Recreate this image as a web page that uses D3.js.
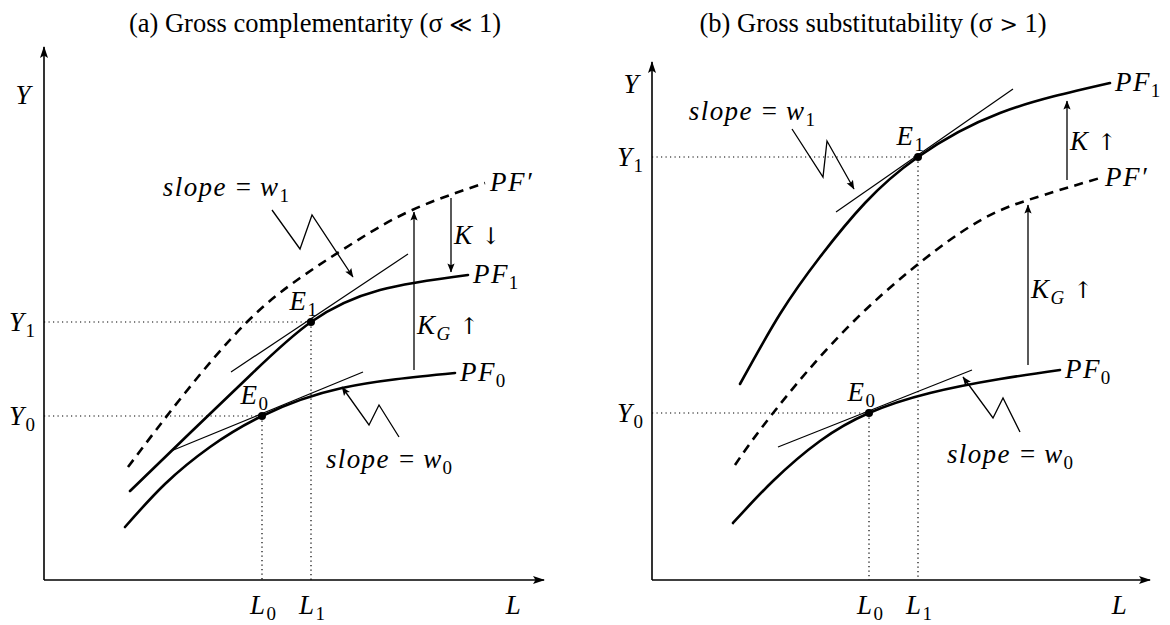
<!DOCTYPE html>
<html>
<head>
<meta charset="utf-8">
<script src="https://cdn.jsdelivr.net/npm/d3@7"></script>
<style>
  body { margin: 0; background: #fff; }
</style>
</head>
<body>
<div id="chart"></div>
<script>
// ---- data (plot units, 0..100 on each axis) ----
var titles = [["(a) Gross complementarity (\u03c3 ", "\u226a", " 1)"],
              ["(b) Gross substitutability (\u03c3 ", ">", " 1)"]];

// panel (a)
var axisA = [100, 106.6];
var pf0A = [[16.2,10.6],[24.2,19.2],[33.2,26.6],[43.6,32.8],[59.6,38.4],[82.2,41.4]];
var pf1A = [[17.2,17.8],[29.2,29.4],[41.2,40.9],[53.4,51.6],[67.2,58],[84.8,61]];
var pfPrimeA = [[16.8,22.6],[28.2,37.4],[40.6,51.6],[51.2,60.4],[61.2,67],[73.2,73.8],[88.2,79.4]];
var eqA = [[43.6,32.8],[53.4,51.6]];                       // E0, E1
var tangentA = [[[25.4,25.8],[63.8,41.6]], [[37.4,41.6],[72.8,65.2]]];
var kGArrowA = [74, 42, 73.6];                              // x, from, to
var kArrowA = [81.4, 76.4, 61.6];
var zigA = [[[71,28.6],[67,35],[65,31],[59.6,38.6]],
            [[45.6,74],[51.2,66.2],[53.6,73],[61.8,60.6]]];

// panel (b)
var axisB = [99.6, 103.6];
var pf0B = [[16.2,11.4],[24.2,19.8],[33.6,27.8],[43.4,33.4],[55.6,37.4],[69.6,40.2],[81.6,42]];
var pf1B = [[17.6,39.2],[25.6,53.2],[33.6,64.6],[42.6,75.4],[53.2,84.6],[69.6,93.4],[91.6,99.4]];
var pfPrimeB = [[16.6,23],[23.6,32.6],[40.6,52],[61.6,69.4],[75.2,76],[89.6,80.4]];
var eqB = [[43.4,33.4],[53.2,84.6]];
var tangentB = [[[25.2,26.6],[64,42]], [[36.8,73.6],[72.2,98.2]]];
var kGArrowB = [75.2, 43, 75];
var kArrowB = [83, 80, 95.8];
var zigB = [[[73.6,29.6],[70.2,36.4],[68.2,32.4],[62.2,40.6]],
            [[28,90.2],[34.2,80.6],[35,87.8],[40.4,78.2]]];

var W = 1170, H = 625;
var FONT = "'Liberation Serif', 'Times New Roman', Times, serif";
var SYM = "'DejaVu Serif', 'DejaVu Sans', serif";
var svg = d3.select("#chart").append("svg").attr("width", W).attr("height", H)
  .attr("font-family", FONT);
svg.append("rect").attr("width", W).attr("height", H).attr("fill", "#fff");

var defs = svg.append("defs");
defs.append("marker").attr("id", "axarr")
  .attr("viewBox", "0 0 12 10").attr("refX", 11).attr("refY", 5)
  .attr("markerWidth", 12).attr("markerHeight", 10)
  .attr("markerUnits", "userSpaceOnUse").attr("orient", "auto")
  .append("path").attr("d", "M0,1 L12,5 L0,9 L2.5,5 Z");
defs.append("marker").attr("id", "arr")
  .attr("viewBox", "0 0 10 10").attr("refX", 9.5).attr("refY", 5)
  .attr("markerWidth", 10).attr("markerHeight", 9)
  .attr("markerUnits", "userSpaceOnUse").attr("orient", "auto")
  .append("path").attr("d", "M0,1 L10,5 L0,9 L2,5 Z");

// text with italic parts, subscripts and symbols
function mathText(g, x, y, pieces, anchor, size) {
  size = size || 27;
  var t = g.append("text").attr("x", x).attr("y", y).attr("font-family", FONT)
    .attr("text-anchor", anchor || "start").style("font-size", size + "px").attr("fill", "#000");
  var shift = 0;
  pieces.forEach(function(p) {
    var ts = t.append("tspan").text(p[0]);
    var kind = p[1];
    var isSub = kind === "sub" || kind === "subi";
    var want = isSub ? 6 : 0;
    if (want !== shift) { ts.attr("dy", want - shift); shift = want; }
    if (isSub) ts.style("font-size", Math.round(size * 0.7) + "px");
    if (kind === "i" || kind === "subi") ts.style("font-style", "italic").style("letter-spacing", "1.4px");
    if (kind === "sym") ts.attr("font-family", SYM).style("font-size", Math.round(size * 0.85) + "px");
  });
  return t;
}

function drawPanel(cfg) {
  var x = cfg.x, y = cfg.y;
  var g = svg.append("g");
  var line = d3.line().x(function(d) { return x(d[0]); }).y(function(d) { return y(d[1]); });
  var curve = d3.line().curve(d3.curveNatural)
    .x(function(d) { return x(d[0]); }).y(function(d) { return y(d[1]); });

  // title
  var tt = g.append("text").attr("x", cfg.titleX).attr("y", 32).attr("text-anchor", "middle")
    .attr("font-family", FONT).style("font-size", "26.5px");
  tt.append("tspan").text(cfg.title[0]);
  tt.append("tspan").attr("font-family", SYM).style("font-size", "22px").text(cfg.title[1]);
  tt.append("tspan").text(cfg.title[2]);

  // dotted guides
  cfg.eq.forEach(function(e) {
    g.append("path").attr("d", line([[0, e[1]], e])).attr("stroke", "#000")
      .attr("stroke-width", 1.2).attr("stroke-dasharray", "1.2,3.3").attr("fill", "none");
    g.append("path").attr("d", line([e, [e[0], 0]])).attr("stroke", "#000")
      .attr("stroke-width", 1.2).attr("stroke-dasharray", "1.2,3.3").attr("fill", "none");
  });

  // axes
  g.append("path").attr("d", line([[0, 0], [cfg.axis[0], 0]])).attr("stroke", "#000")
    .attr("stroke-width", 1.6).attr("marker-end", "url(#axarr)");
  g.append("path").attr("d", line([[0, 0], [0, cfg.axis[1]]])).attr("stroke", "#000")
    .attr("stroke-width", 1.6).attr("marker-end", "url(#axarr)");

  // production functions
  g.append("path").attr("d", curve(cfg.pfPrime)).attr("fill", "none").attr("stroke", "#000")
    .attr("stroke-width", 2.6).attr("stroke-dasharray", "9,6.5");
  [cfg.pf0, cfg.pf1].forEach(function(pf) {
    g.append("path").attr("d", curve(pf)).attr("fill", "none").attr("stroke", "#000")
      .attr("stroke-width", 2.6).attr("stroke-linecap", "round");
  });

  // tangents
  cfg.tangent.forEach(function(t) {
    g.append("path").attr("d", line(t)).attr("stroke", "#000").attr("stroke-width", 1.2);
  });

  // shift arrows
  [cfg.kG, cfg.k].forEach(function(a) {
    g.append("path").attr("d", line([[a[0], a[1]], [a[0], a[2]]])).attr("stroke", "#000")
      .attr("stroke-width", 1.3).attr("marker-end", "url(#arr)");
  });

  // zigzag pointers
  cfg.zig.forEach(function(z) {
    g.append("path").attr("d", line(z)).attr("fill", "none").attr("stroke", "#000")
      .attr("stroke-width", 1.3).attr("stroke-linejoin", "miter").attr("marker-end", "url(#arr)");
  });

  // equilibrium dots
  g.selectAll("circle.eq").data(cfg.eq).enter().append("circle")
    .attr("cx", function(d) { return x(d[0]); }).attr("cy", function(d) { return y(d[1]); })
    .attr("r", 4).attr("fill", "#000");

  // labels
  var o = x(0);
  mathText(g, o - 12, cfg.yLabelY, [["Y", "i"]], "end");
  mathText(g, x(cfg.axis[0]) - 30, 614, [["L", "i"]], "middle");
  cfg.eq.forEach(function(e, i) {
    mathText(g, o - 9, y(e[1]) + 9, [["Y", "i"], [String(i), "sub"]], "end");
    mathText(g, x(e[0]) + 1, 614, [["L", "i"], [String(i), "sub"]], "middle");
    mathText(g, x(e[0]) + 6, y(e[1]) - 12, [["E", "i"], [String(i), "sub"]], "end");
  });
  var e0 = cfg.pf0[cfg.pf0.length - 1], e1 = cfg.pf1[cfg.pf1.length - 1], ep = cfg.pfPrime[cfg.pfPrime.length - 1];
  mathText(g, x(e0[0]) + 5, y(e0[1]) + 8, [["PF", "i"], ["0", "sub"]]);
  mathText(g, x(e1[0]) + 5, y(e1[1]) + 8, [["PF", "i"], ["1", "sub"]]);
  mathText(g, x(ep[0]) + 5, y(ep[1]) + 8, [["PF\u2032", "i"]]);

  var kg = cfg.kG, k = cfg.k;
  mathText(g, x(kg[0]) + 3, cfg.kGLabelY, [["K", "i"], ["G", "subi"], ["\u2004\u2191", "sym"]]);
  mathText(g, x(k[0]) + 3, y((k[1] + k[2]) / 2) + 9, [["K", "i"], ["\u2004" + cfg.kSym, "sym"]]);

  var z0 = cfg.zig[0][0];
  var eqSign = "\u2004=\u2004";
  mathText(g, x(z0[0]) - 10, y(z0[1]) + 31, [["slope", "i"], [eqSign, "r"], ["w", "i"], ["0", "sub"]], "middle");
  mathText(g, cfg.w1Label[0], cfg.w1Label[1], [["slope", "i"], [eqSign, "r"], ["w", "i"], ["1", "sub"]], "end");
}

drawPanel({
  title: titles[0], titleX: 315, yLabelY: 104, kGLabelY: 334, w1Label: [289, 196],
  x: d3.scaleLinear().domain([0, 100]).range([44, 544]),
  y: d3.scaleLinear().domain([0, 104]).range([580, 60]),
  axis: axisA, pf0: pf0A, pf1: pf1A, pfPrime: pfPrimeA, eq: eqA,
  tangent: tangentA, kG: kGArrowA, k: kArrowA, kSym: "\u2193", zig: zigA
});
drawPanel({
  title: titles[1], titleX: 873, yLabelY: 93, kGLabelY: 298, w1Label: [815, 120],
  x: d3.scaleLinear().domain([0, 100]).range([652, 1152]),
  y: d3.scaleLinear().domain([0, 100]).range([580, 80]),
  axis: axisB, pf0: pf0B, pf1: pf1B, pfPrime: pfPrimeB, eq: eqB,
  tangent: tangentB, kG: kGArrowB, k: kArrowB, kSym: "\u2191", zig: zigB
});
</script>
</body>
</html>
